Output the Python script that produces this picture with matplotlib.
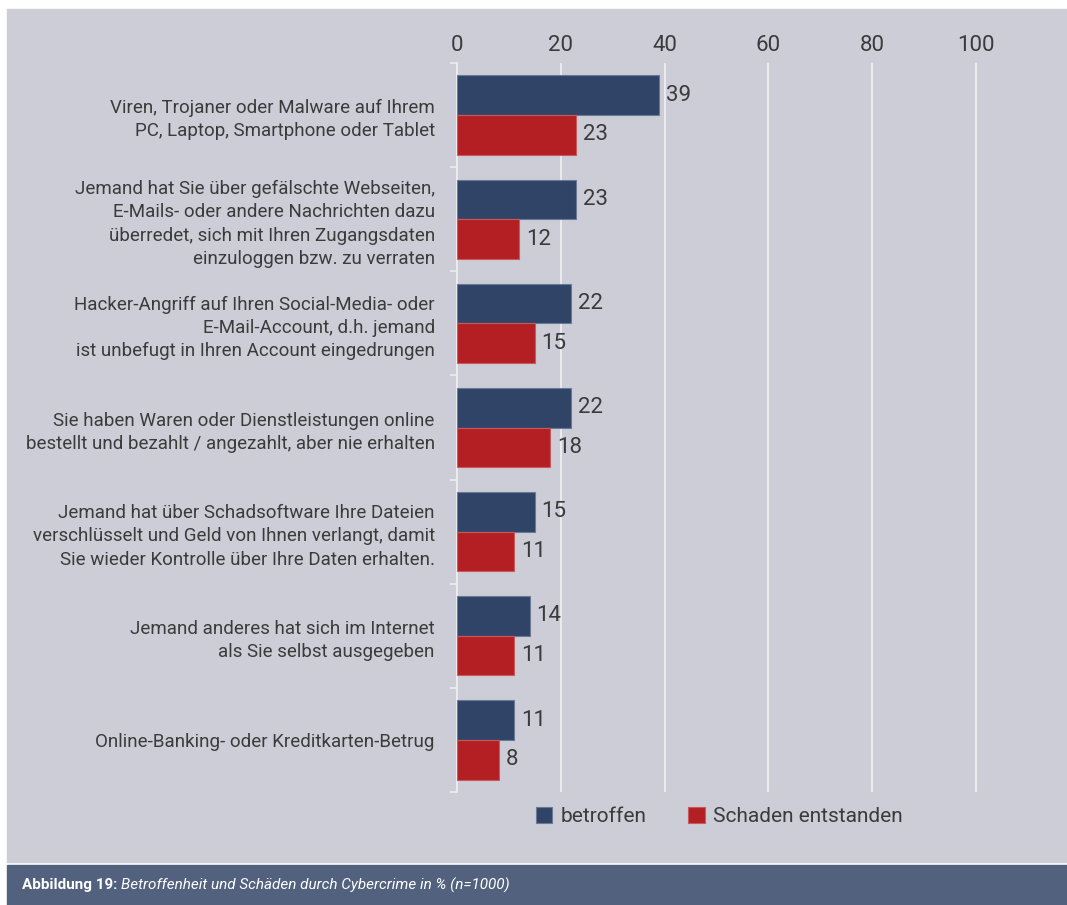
import matplotlib
matplotlib.use("Agg")
import matplotlib.pyplot as plt
from matplotlib.patches import Rectangle

plt.rcParams['font.family'] = ['Roboto', 'DejaVu Sans']

categories = [
    "Viren, Trojaner oder Malware auf Ihrem\nPC, Laptop, Smartphone oder Tablet",
    "Jemand hat Sie über gefälschte Webseiten,\nE-Mails- oder andere Nachrichten dazu\nüberredet, sich mit Ihren Zugangsdaten\neinzuloggen bzw. zu verraten",
    "Hacker-Angriff auf Ihren Social-Media- oder\nE-Mail-Account, d.h. jemand\nist unbefugt in Ihren Account eingedrungen",
    "Sie haben Waren oder Dienstleistungen online\nbestellt und bezahlt / angezahlt, aber nie erhalten",
    "Jemand hat über Schadsoftware Ihre Dateien\nverschlüsselt und Geld von Ihnen verlangt, damit\nSie wieder Kontrolle über Ihre Daten erhalten.",
    "Jemand anderes hat sich im Internet\nals Sie selbst ausgegeben",
    "Online-Banking- oder Kreditkarten-Betrug",
]
betroffen = [39, 23, 22, 22, 15, 14, 11]
schaden = [23, 12, 15, 18, 11, 11, 8]
series_names = ["betroffen", "Schaden entstanden"]
xticks = [0, 20, 40, 60, 80, 100]

BLUE = '#2f4466'
RED = '#b31f22'
BG = '#cccdd7'
BAR = '#52617e'
TXT = '#3b3b3b'
GRID = '#ececf0'

W, H = 1067, 905
fig = plt.figure(figsize=(W / 100, H / 100), dpi=100)
fig.patch.set_facecolor('white')

# grey panel and caption strip
fig.add_artist(Rectangle((7 / W, 1 - 862 / H), 1 - 7 / W, (862 - 9) / H,
                         transform=fig.transFigure, color=BG, zorder=-10))
fig.add_artist(Rectangle((7 / W, 0), 1 - 7 / W, (905 - 865) / H,
                         transform=fig.transFigure, color=BAR, zorder=-10))

ax = fig.add_axes([457 / W, 1 - 792 / H, (W - 457) / W, (792 - 63) / H])
ax.set_facecolor('none')

n = len(categories)
pos = list(range(n))
h = 0.38
ax.barh([p - h / 2 for p in pos], betroffen, height=h, color=BLUE,
        edgecolor='#6b7a96', linewidth=0.8, zorder=3, label=series_names[0])
ax.barh([p + h / 2 for p in pos], schaden, height=h, color=RED,
        edgecolor='#c95a5c', linewidth=0.8, zorder=3, label=series_names[1])

for p, v in zip(pos, betroffen):
    ax.text(v + 1.3, p - h / 2, str(v), va='center', ha='left',
            fontsize=16, color=TXT)
for p, v in zip(pos, schaden):
    ax.text(v + 1.3, p + h / 2, str(v), va='center', ha='left',
            fontsize=16, color=TXT)

ax.set_xlim(0, (W - 457) / 5.19)
ax.set_ylim(n - 0.5, -0.5)
ax.set_xticks(xticks)
ax.set_xticklabels([str(t) for t in xticks], fontsize=16, color=TXT)
ax.xaxis.tick_top()
ax.tick_params(axis='x', length=0, pad=5)
ax.grid(axis='x', color=GRID, linewidth=1.4, zorder=0)

ax.set_yticks(pos)
ax.set_yticklabels(categories, fontsize=13.5, color=TXT, linespacing=1.38)
ax.set_yticks([p - 0.5 for p in pos] + [n - 0.5], minor=True)
ax.tick_params(axis='y', which='major', length=0, pad=16)
ax.tick_params(axis='y', which='minor', length=5, width=1.2, color=GRID)

for s in ['top', 'right', 'bottom']:
    ax.spines[s].set_visible(False)
ax.spines['left'].set_color(GRID)
ax.spines['left'].set_linewidth(1.4)

ax.legend(loc='upper center', bbox_to_anchor=(0.43, 0.005), ncol=2,
          frameon=False, fontsize=15, handlelength=0.8, handleheight=0.8,
          columnspacing=2.0, handletextpad=0.4, labelcolor=TXT)

# caption: bold prefix followed by italic title
fig.canvas.draw()
t1 = fig.text(22 / W, 1 - 885 / H, "Abbildung 19:", color='white', fontsize=11,
              fontweight='bold', va='center', ha='left')
x1 = t1.get_window_extent(fig.canvas.get_renderer()).x1
fig.text((x1 + 4) / W, 1 - 885 / H,
         "Betroffenheit und Schäden durch Cybercrime in % (n=1000)",
         color='white', fontsize=11, style='italic', va='center', ha='left')

fig.savefig('out.png', dpi=100)
